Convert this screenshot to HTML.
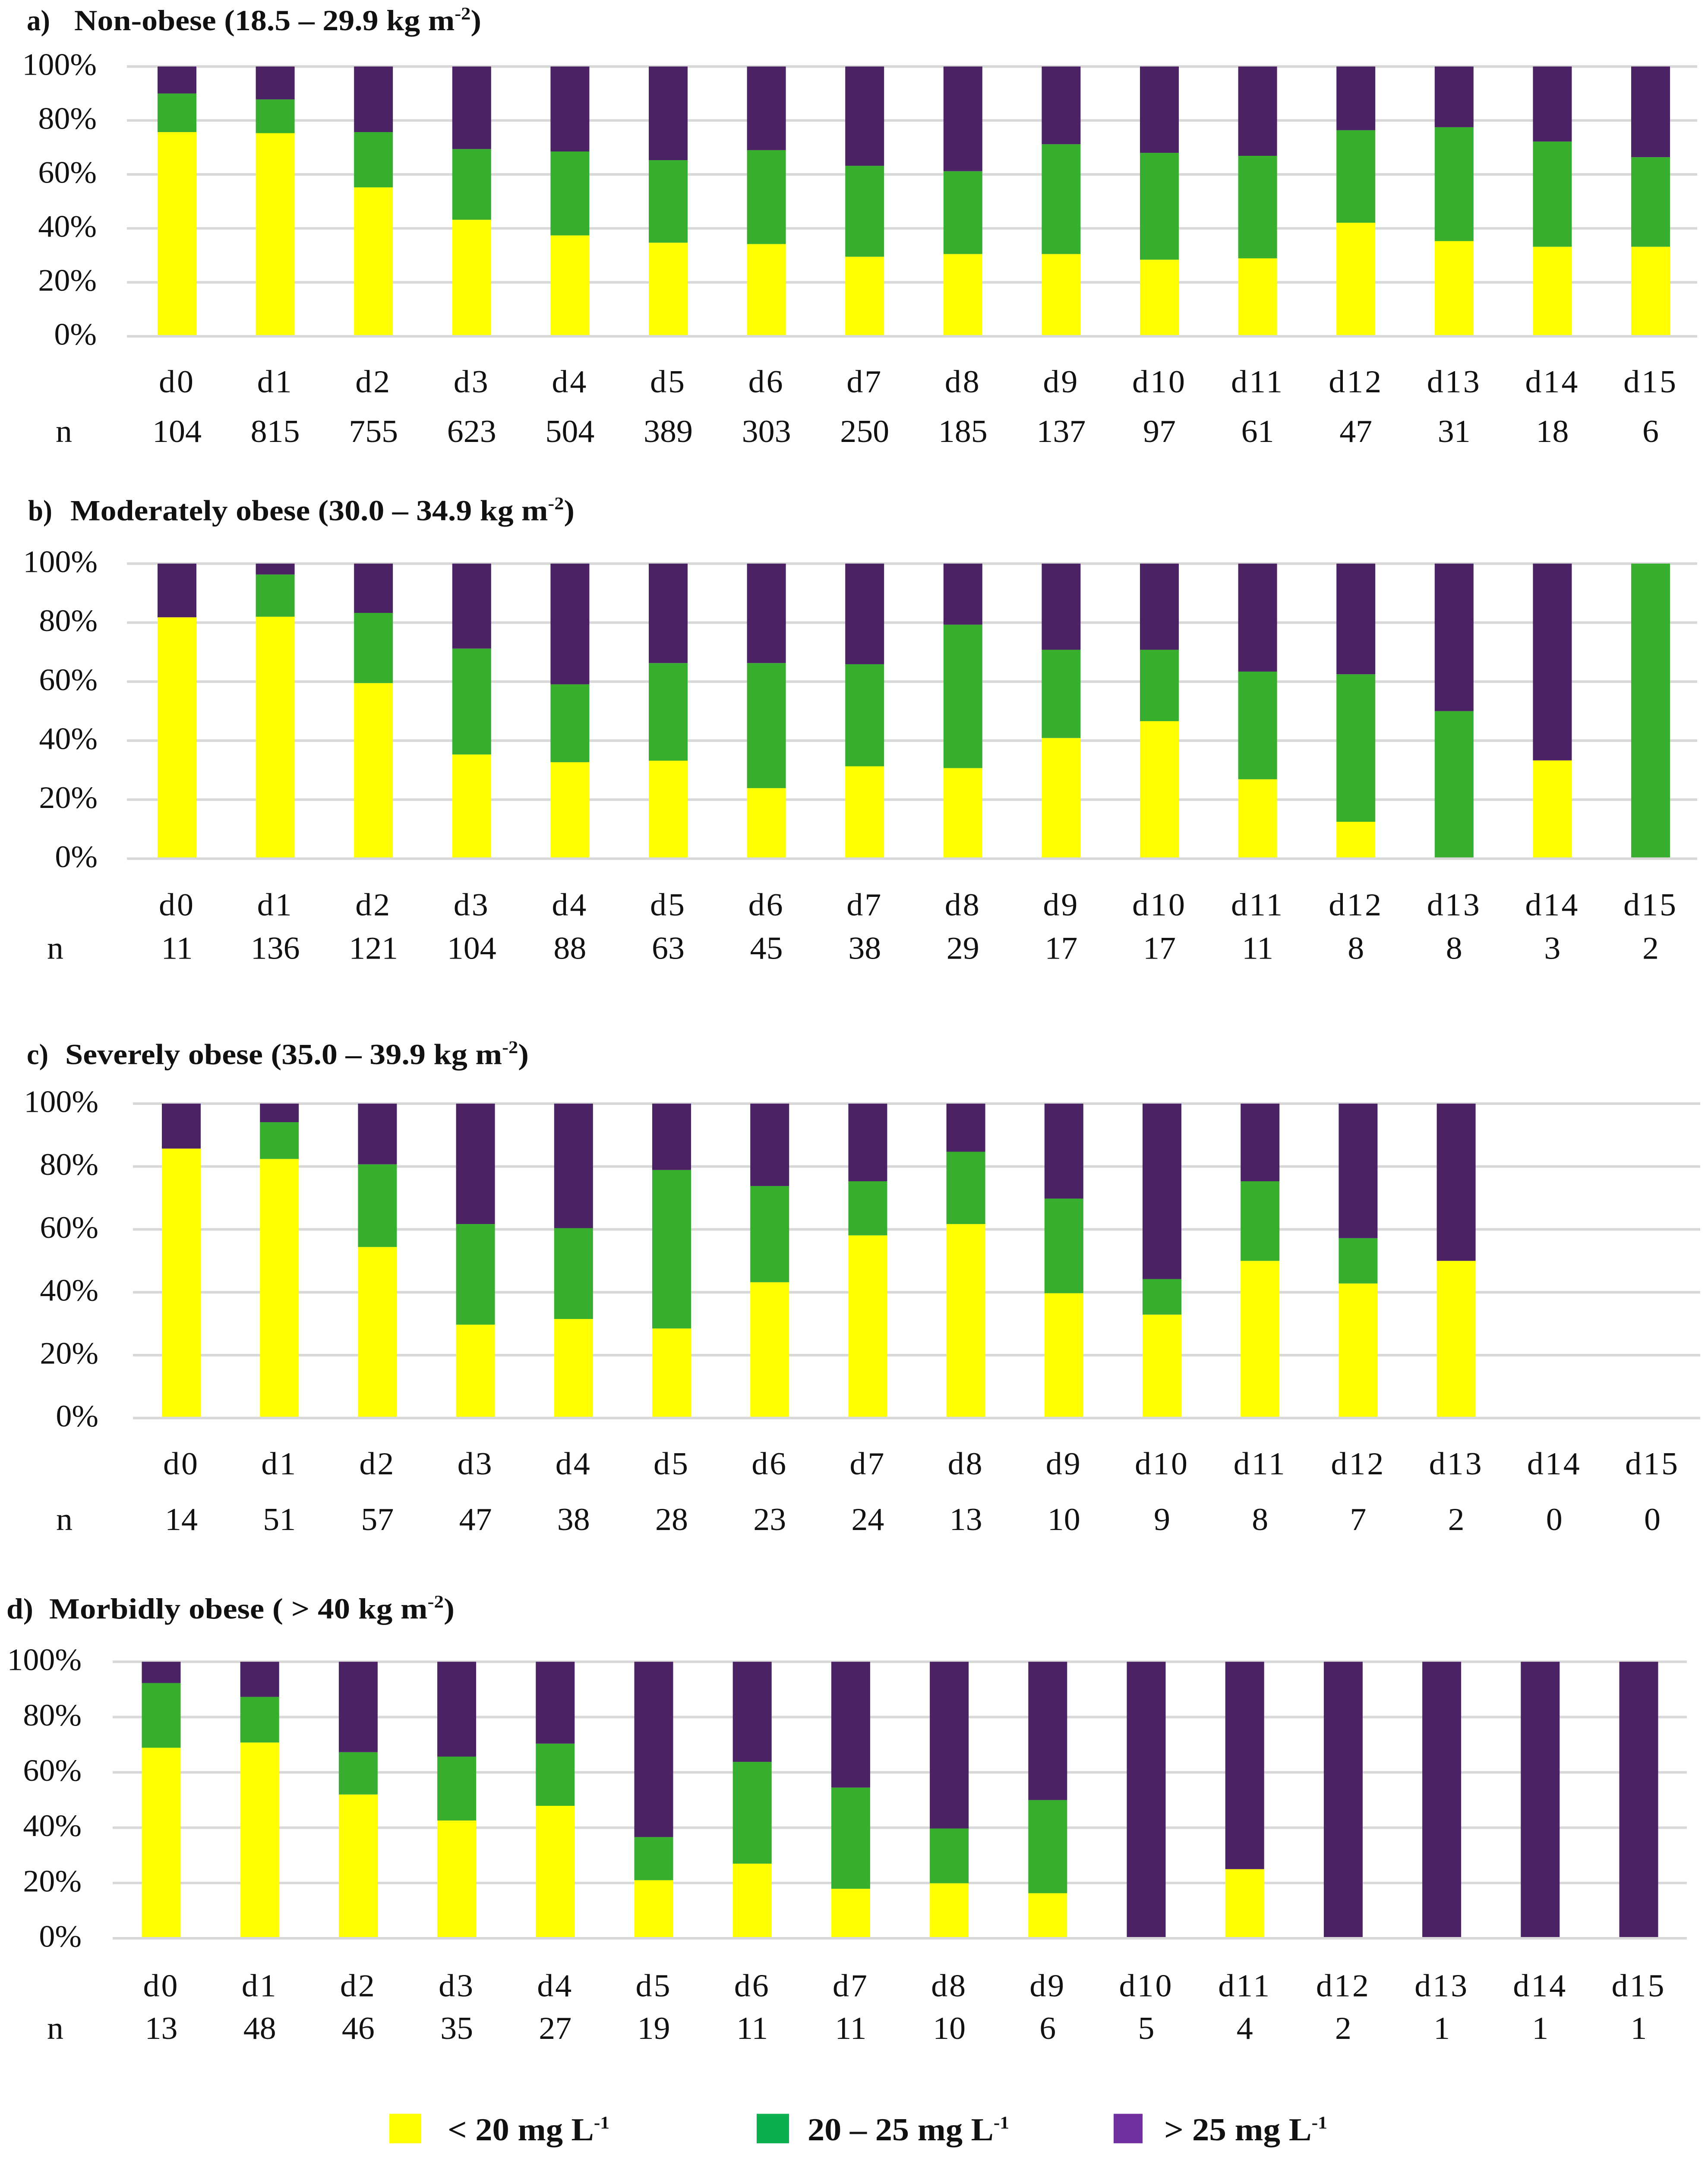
<!DOCTYPE html>
<html lang="en">
<head>
<meta charset="utf-8">
<title>Stacked bars by obesity class</title>
<style>
html,body{margin:0;padding:0;background:#fff;width:100%;height:100%;overflow:hidden}
svg{display:block;width:100vw;height:100vh}
text{font-family:"Liberation Serif",serif;fill:#111}
.ttl{font-size:70px;font-weight:bold}
.sup{font-size:42px}
.lg{font-size:76px;font-weight:bold}
.tick{font-size:74px;text-anchor:end}
.cat{font-size:76px;text-anchor:middle}
.day{font-size:76px;text-anchor:middle;letter-spacing:4px}
</style>
</head>
<body>
<svg id="fig" xmlns="http://www.w3.org/2000/svg" viewBox="0 0 3957 5127" preserveAspectRatio="none">
  <rect width="3957" height="5127" fill="#fff"/>

  <g>
    <text class="ttl" x="62" y="72" textLength="54" lengthAdjust="spacingAndGlyphs">a)</text>
    <text class="ttl" x="172" y="72" textLength="943" lengthAdjust="spacingAndGlyphs">Non-obese (18.5 – 29.9 kg m<tspan class="sup" dy="-26">-2</tspan><tspan dy="26">)</tspan></text>
    <text class="ttl" x="65" y="1236" textLength="56" lengthAdjust="spacingAndGlyphs">b)</text>
    <text class="ttl" x="163" y="1236" textLength="1168" lengthAdjust="spacingAndGlyphs">Moderately obese (30.0 – 34.9 kg m<tspan class="sup" dy="-26">-2</tspan><tspan dy="26">)</tspan></text>
    <text class="ttl" x="62" y="2528" textLength="50" lengthAdjust="spacingAndGlyphs">c)</text>
    <text class="ttl" x="151" y="2528" textLength="1074" lengthAdjust="spacingAndGlyphs">Severely obese (35.0 – 39.9 kg m<tspan class="sup" dy="-26">-2</tspan><tspan dy="26">)</tspan></text>
    <text class="ttl" x="15" y="3845" textLength="62" lengthAdjust="spacingAndGlyphs">d)</text>
    <text class="ttl" x="114" y="3845" textLength="939" lengthAdjust="spacingAndGlyphs">Morbidly obese ( &gt; 40 kg m<tspan class="sup" dy="-26">-2</tspan><tspan dy="26">)</tspan></text>
  </g>

  <g id="charts"></g>

  <g>
    <rect x="902" y="5022" width="74" height="70" fill="#ffff00"/>
    <text class="lg" x="1037" y="5085" textLength="375" lengthAdjust="spacingAndGlyphs">&lt; 20 mg L<tspan class="sup" dy="-28">-1</tspan></text>
    <rect x="1753" y="5022" width="75" height="70" fill="#0aaf4e"/>
    <text class="lg" x="1871" y="5085" textLength="467" lengthAdjust="spacingAndGlyphs">20 – 25 mg L<tspan class="sup" dy="-28">-1</tspan></text>
    <rect x="2580" y="5022" width="67" height="70" fill="#7030a0"/>
    <text class="lg" x="2697" y="5085" textLength="378" lengthAdjust="spacingAndGlyphs">&gt; 25 mg L<tspan class="sup" dy="-28">-1</tspan></text>
  </g>
</svg>

<script>
// Shared categories and tick labels
var categories = ["d0","d1","d2","d3","d4","d5","d6","d7","d8","d9","d10","d11","d12","d13","d14","d15"];
var tickValues = [0,20,40,60,80,100];
var tickLabels = ["0%","20%","40%","60%","80%","100%"];

// Panel a: non-obese
var aCounts = [104,815,755,623,504,389,303,250,185,137,97,61,47,31,18,6];
var aLow  = [75.7,75.3,55.2,43.2,37.4,34.7,34.2,29.5,30.5,30.5,28.4,28.9,42.1,35.3,33.2,33.2];
var aMid  = [14.3,12.5,20.5,26.2,31.1,30.6,34.8,33.7,30.7,40.7,39.6,38,34.3,42.2,39,33.2];
var aHigh = [10,12.2,24.3,30.6,31.5,34.7,31,36.8,38.8,28.8,32,33.1,23.6,22.5,27.8,33.6];

// Panel b: moderately obese
var bCounts = [11,136,121,104,88,63,45,38,29,17,17,11,8,8,3,2];
var bLow  = [81.8,82,59.5,35.3,32.7,33.2,23.9,31.3,30.7,40.9,46.6,26.9,12.5,0,33.3,0];
var bMid  = [0,14.3,23.8,35.9,26.4,33.1,42.4,34.6,48.6,29.9,24.2,36.5,50,50,0,100];
var bHigh = [18.2,3.7,16.7,28.8,40.9,33.7,33.7,34.1,20.7,29.2,29.2,36.6,37.5,50,66.7,0];

// Panel c: severely obese
var cCounts = [14,51,57,47,38,28,23,24,13,10,9,8,7,2,0,0];
var cLow  = [85.7,82.4,54.4,29.7,31.5,28.5,43.2,58.1,61.7,39.7,32.9,50,42.8,50,0,0];
var cMid  = [0,11.7,26.3,32,28.9,50.4,30.6,17.2,23,30.1,11.3,25.3,14.4,0,0,0];
var cHigh = [14.3,5.9,19.3,38.3,39.6,21.1,26.2,24.7,15.3,30.2,55.8,24.7,42.8,50,0,0];

// Panel d: morbidly obese
var dCounts = [13,48,46,35,27,19,11,11,10,6,5,4,2,1,1,1];
var dLow  = [68.9,70.8,52,42.6,47.9,21,27,17.9,19.9,16.3,0,25,0,0,0,0];
var dMid  = [23.4,16.5,15.3,23.1,22.5,15.6,36.8,36.6,19.8,33.7,0,0,0,0,0,0];
var dHigh = [7.7,12.7,32.7,34.3,29.6,63.4,36.2,45.5,60.3,50,100,75,100,100,100,100];

var seriesNames = ["under-20","20-to-25","over-25"];
var seriesColors = ["#ffff00","#38ae2f","#4b2364"];
var gridColor = "#d8d8d8";

var NS = "http://www.w3.org/2000/svg";

function drawPanel(id, counts, low, mid, high, g) {
  var root = document.getElementById("charts");
  var panel = document.createElementNS(NS, "g");
  
  
  root.appendChild(panel);

  function yScale(v) { return g.bottom - v / 100 * (g.bottom - g.top); }
  function xBand(i) { return g.first + i * g.step; }

  function line(v, name) {
    var l = document.createElementNS(NS, "rect");
    l.setAttribute("x", g.left);
    l.setAttribute("y", yScale(v) - 3);
    l.setAttribute("width", g.right - g.left);
    l.setAttribute("height", 6);
    l.setAttribute("fill", gridColor);
    
    
    panel.appendChild(l);
  }
  function label(cls, x, y, str, name) {
    var t = document.createElementNS(NS, "text");
    t.setAttribute("class", cls);
    t.setAttribute("x", x);
    t.setAttribute("y", y);
    t.textContent = str;
    
    
    panel.appendChild(t);
  }

  tickValues.forEach(function (v, k) {
    if (v !== 0) { line(v, "gridline-" + tickLabels[k].replace("%", "")); }
    label("tick", g.tickX, yScale(v) + 20, tickLabels[k], "y-tick-" + tickLabels[k].replace("%", ""));
  });

  categories.forEach(function (c, i) {
    var base = 0;
    [low[i], mid[i], high[i]].forEach(function (val, s) {
      if (val <= 0) { return; }
      var r = document.createElementNS(NS, "rect");
      r.setAttribute("x", xBand(i) - g.barW / 2);
      r.setAttribute("y", yScale(base + val));
      r.setAttribute("width", g.barW);
      r.setAttribute("height", yScale(base) - yScale(base + val));
      r.setAttribute("fill", seriesColors[s]);
      
      
      panel.appendChild(r);
      base += val;
    });
    label("day", xBand(i), g.catY, c, "x-label-" + c);
    label("cat", xBand(i), g.nY, String(counts[i]), "n-value-" + c);
  });

  line(0, "x-axis-line");
  label("cat", g.nX, g.nY, "n", "n-row-label");
}

drawPanel("a", aCounts, aLow, aMid, aHigh, {left:294, right:3932, top:158, bottom:799, first:410, step:227.6, barW:90, tickX:224, catY:932, nY:1050, nX:148});
drawPanel("b", bCounts, bLow, bMid, bHigh, {left:294, right:3932, top:1339, bottom:2040, first:410, step:227.6, barW:90, tickX:226, catY:2175, nY:2278, nX:128});
drawPanel("c", cCounts, cLow, cMid, cHigh, {left:308, right:3939, top:2622, bottom:3369, first:420, step:227.2, barW:90, tickX:228, catY:3503, nY:3635, nX:149});
drawPanel("d", dCounts, dLow, dMid, dHigh, {left:261, right:3908, top:3948, bottom:4605, first:373.5, step:228.2, barW:90, tickX:189, catY:4743, nY:4844, nX:128});
</script>
</body>
</html>
